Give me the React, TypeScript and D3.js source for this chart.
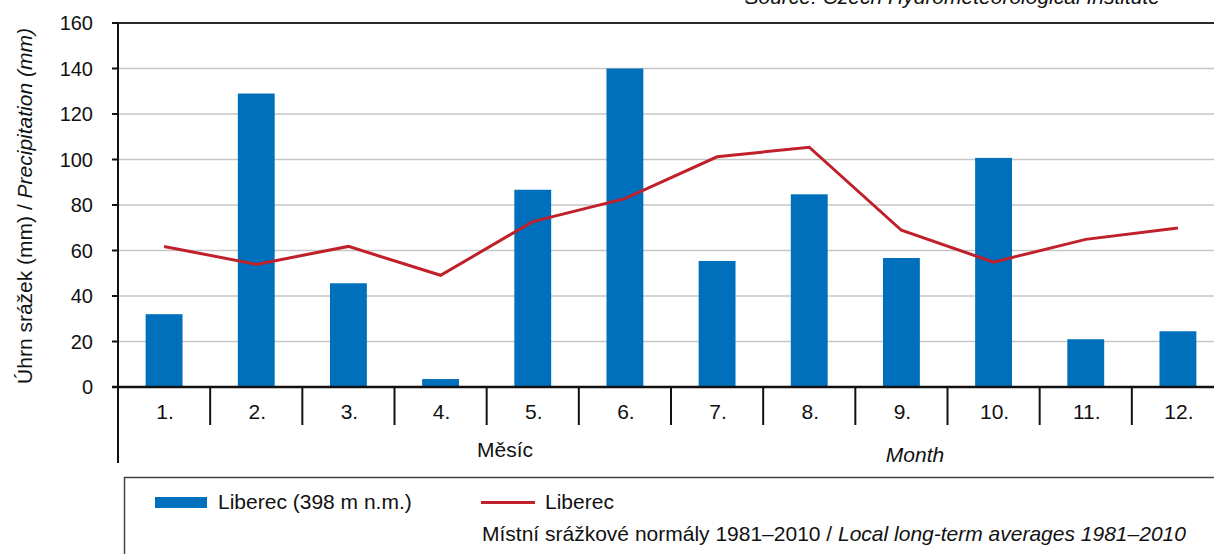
import React from "react";
import * as d3 from "d3";

const months = ["1.", "2.", "3.", "4.", "5.", "6.", "7.", "8.", "9.", "10.", "11.", "12."];
const precip2xxx = [32, 129, 45.6, 3.5, 86.7, 140, 55.4, 84.7, 56.7, 100.7, 21, 24.5];
const normals = [61.8, 53.9, 61.8, 49.1, 72.7, 82.8, 101.2, 105.4, 68.9, 54.9, 64.9, 69.9];
const yTicks = [0, 20, 40, 60, 80, 100, 120, 140, 160];

const W = 1214;
const H = 554;
const left = 118;
const right = 1224;
const top = 23;
const bottom = 387;
const FONT = "'Liberation Sans', Arial, Helvetica, sans-serif";
const FS = 21;
const FST = 20;
const BAR = "#0070BD";
const RED = "#C0202A";

export default function App() {
  const x = d3.scaleBand<string>().domain(months).range([left, right]).padding(0);
  const y = d3.scaleLinear().domain([0, 160]).range([bottom, top]);
  const bw = x.bandwidth() * 0.4;
  const line = d3
    .line<number>()
    .x((_, i) => (x(months[i]) as number) + x.bandwidth() / 2)
    .y((d) => y(d));

  return (
    <svg
      width={W}
      height={H}
      style={{ position: "absolute", left: 0, top: 0, background: "#fff" }}
      fontFamily={FONT}
    >
      {/* source */}
      <text x={1160} y={4} textAnchor="end" fontSize={FS} fontStyle="italic" fill="#111">
        Source: Czech Hydrometeorological Institute
      </text>

      {/* gridlines */}
      {yTicks
        .filter((t) => t > 0 && t < 160)
        .map((t) => (
          <line key={t} x1={left} x2={W} y1={y(t)} y2={y(t)} stroke="#c6c6c6" strokeWidth={1.6} />
        ))}
      {/* top frame */}
      <line x1={left} x2={W} y1={y(160)} y2={y(160)} stroke="#2a2a2a" strokeWidth={2} />

      {/* bars */}
      {precip2xxx.map((v, i) => (
        <rect
          key={i}
          x={(x(months[i]) as number) + (x.bandwidth() - bw) / 2}
          y={y(v)}
          width={bw}
          height={y(0) - y(v)}
          fill={BAR}
        />
      ))}

      {/* line */}
      <path d={line(normals) || ""} fill="none" stroke={RED} strokeWidth={3} strokeLinejoin="miter" />

      {/* y axis */}
      <line x1={left} x2={left} y1={top - 1} y2={463} stroke="#111" strokeWidth={2} />
      {yTicks.map((t) => (
        <g key={t}>
          <line x1={112} x2={left} y1={y(t)} y2={y(t)} stroke="#111" strokeWidth={2} />
          <text x={93} y={y(t) + 7} textAnchor="end" fontSize={FST} fill="#111">
            {t}
          </text>
        </g>
      ))}

      {/* x axis */}
      <line x1={112} x2={W} y1={bottom} y2={bottom} stroke="#111" strokeWidth={2.5} />
      {months.slice(1).map((m) => (
        <line
          key={m}
          x1={x(m) as number}
          x2={x(m) as number}
          y1={bottom}
          y2={425}
          stroke="#111"
          strokeWidth={2}
        />
      ))}
      {months.map((m) => (
        <text
          key={m}
          x={(x(m) as number) + x.bandwidth() / 2 + 1}
          y={419}
          textAnchor="middle"
          fontSize={FS}
          fill="#111"
        >
          {m}
        </text>
      ))}
      <text x={505} y={457} textAnchor="middle" fontSize={FS} fill="#111">
        Měsíc
      </text>
      <text x={915} y={462} textAnchor="middle" fontSize={FS} fontStyle="italic" fill="#111">
        Month
      </text>

      {/* y title */}
      <text
        transform={`translate(32, ${(top + bottom) / 2 + 1}) rotate(-90)`}
        textAnchor="middle"
        fontSize={FS}
        fill="#111"
      >
        <tspan>Úhrn srážek (mm) / </tspan>
        <tspan fontStyle="italic">Precipitation (mm)</tspan>
      </text>

      {/* legend */}
      <rect x={124.5} y={477.5} width={W} height={100} fill="none" stroke="#444" strokeWidth={1.5} />
      <rect x={155} y={497} width={52} height={11} fill={BAR} />
      <text x={218} y={509} fontSize={FS} fill="#111">
        Liberec (398 m n.m.)
      </text>
      <line x1={481} x2={535} y1={502.5} y2={502.5} stroke={RED} strokeWidth={3} />
      <text x={545} y={509} fontSize={FS} fill="#111">
        Liberec
      </text>
      <text x={482} y={541} fontSize={FS} fill="#111">
        <tspan>Místní srážkové normály 1981–2010 / </tspan>
        <tspan fontStyle="italic">Local long-term averages 1981–2010</tspan>
      </text>
    </svg>
  );
}
